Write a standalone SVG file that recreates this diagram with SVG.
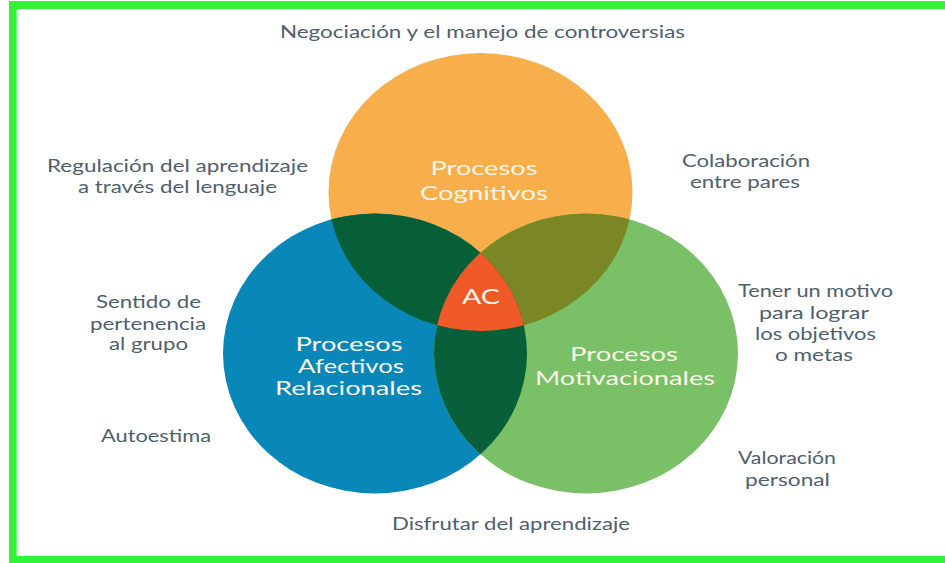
<svg xmlns="http://www.w3.org/2000/svg" width="945" height="563" viewBox="0 0 945 563">
<style>
.lbl{font-family:Lato,"Open Sans","Liberation Sans",sans-serif;font-size:18px;fill:#4f5f6c;text-anchor:middle}
.big{font-family:Lato,"Open Sans","Liberation Sans",sans-serif;font-size:20px;fill:#fbf6e8;text-anchor:middle}
.frame{fill:#31f43a}
</style>
<defs>
<clipPath id="clipO"><ellipse cx="480.5" cy="192" rx="152" ry="139"/></clipPath>
<clipPath id="clipB"><ellipse cx="375" cy="353.5" rx="152" ry="140"/></clipPath>
<clipPath id="clipG"><ellipse cx="586" cy="353.5" rx="152" ry="140"/></clipPath>
</defs>
<rect width="945" height="563" fill="#ffffff"/>
<g id="frame">
<rect class="frame" x="9" y="1" width="936" height="8"/>
<rect class="frame" x="9" y="1" width="7.7" height="562"/>
<rect class="frame" x="9" y="556" width="936" height="7"/>
</g>
<g id="node-cognitivos">
<ellipse cx="480.5" cy="192" rx="152" ry="139" fill="#f8ae4b"/>
</g>
<g id="node-afectivos">
<ellipse cx="375" cy="353.5" rx="152" ry="140" fill="#0a87b9"/>
</g>
<g id="node-motivacionales">
<ellipse cx="586" cy="353.5" rx="152" ry="140" fill="#79c066"/>
</g>
<g id="overlaps">
<ellipse cx="375" cy="353.5" rx="152" ry="140" fill="#075f38" clip-path="url(#clipO)"/>
<ellipse cx="586" cy="353.5" rx="152" ry="140" fill="#7b8725" clip-path="url(#clipO)"/>
<ellipse cx="586" cy="353.5" rx="152" ry="140" fill="#0a5f3b" clip-path="url(#clipB)"/>
</g>
<g id="node-ac">
<g clip-path="url(#clipO)"><ellipse cx="586" cy="353.5" rx="152" ry="140" fill="#f05a28" clip-path="url(#clipB)"/></g>
<text class="big" x="481" y="304" style="font-size:21px" textLength="38" lengthAdjust="spacingAndGlyphs">AC</text>
</g>
<g id="text-cognitivos">
<text class="big" x="484" y="175" textLength="107" lengthAdjust="spacingAndGlyphs">Procesos</text>
<text class="big" x="484" y="200" textLength="128" lengthAdjust="spacingAndGlyphs">Cognitivos</text>
</g>
<g id="text-afectivos">
<text class="big" x="349" y="351" textLength="107" lengthAdjust="spacingAndGlyphs">Procesos</text>
<text class="big" x="351" y="373" textLength="106" lengthAdjust="spacingAndGlyphs">Afectivos</text>
<text class="big" x="348.5" y="395" textLength="147" lengthAdjust="spacingAndGlyphs">Relacionales</text>
</g>
<g id="text-motivacionales">
<text class="big" x="624" y="361" textLength="108" lengthAdjust="spacingAndGlyphs">Procesos</text>
<text class="big" x="625" y="385" textLength="180" lengthAdjust="spacingAndGlyphs">Motivacionales</text>
</g>
<g id="label-negociacion">
<text class="lbl" x="482.5" y="38" textLength="405" lengthAdjust="spacingAndGlyphs">Negociación y el manejo de controversias</text>
</g>
<g id="label-regulacion">
<text class="lbl" x="177.5" y="172" textLength="261" lengthAdjust="spacingAndGlyphs">Regulación del aprendizaje</text>
<text class="lbl" x="177.5" y="193" textLength="199" lengthAdjust="spacingAndGlyphs">a través del lenguaje</text>
</g>
<g id="label-colaboracion">
<text class="lbl" x="746" y="167" textLength="128" lengthAdjust="spacingAndGlyphs">Colaboración</text>
<text class="lbl" x="745" y="188" textLength="110" lengthAdjust="spacingAndGlyphs">entre pares</text>
</g>
<g id="label-sentido">
<text class="lbl" x="148.5" y="308" textLength="105" lengthAdjust="spacingAndGlyphs">Sentido de</text>
<text class="lbl" x="148" y="330" textLength="116" lengthAdjust="spacingAndGlyphs">pertenencia</text>
<text class="lbl" x="148.5" y="350" textLength="79" lengthAdjust="spacingAndGlyphs">al grupo</text>
</g>
<g id="label-autoestima">
<text class="lbl" x="156" y="442" textLength="110" lengthAdjust="spacingAndGlyphs">Autoestima</text>
</g>
<g id="label-motivo">
<text class="lbl" x="815.5" y="297" textLength="155" lengthAdjust="spacingAndGlyphs">Tener un motivo</text>
<text class="lbl" x="814" y="319" textLength="110" lengthAdjust="spacingAndGlyphs">para lograr</text>
<text class="lbl" x="815.5" y="340" textLength="121" lengthAdjust="spacingAndGlyphs">los objetivos</text>
<text class="lbl" x="814" y="361" textLength="78" lengthAdjust="spacingAndGlyphs">o metas</text>
</g>
<g id="label-valoracion">
<text class="lbl" x="787" y="464" textLength="98" lengthAdjust="spacingAndGlyphs">Valoración</text>
<text class="lbl" x="787.5" y="486" textLength="85" lengthAdjust="spacingAndGlyphs">personal</text>
</g>
<g id="label-disfrutar">
<text class="lbl" x="511" y="530" textLength="238" lengthAdjust="spacingAndGlyphs">Disfrutar del aprendizaje</text>
</g>
</svg>
